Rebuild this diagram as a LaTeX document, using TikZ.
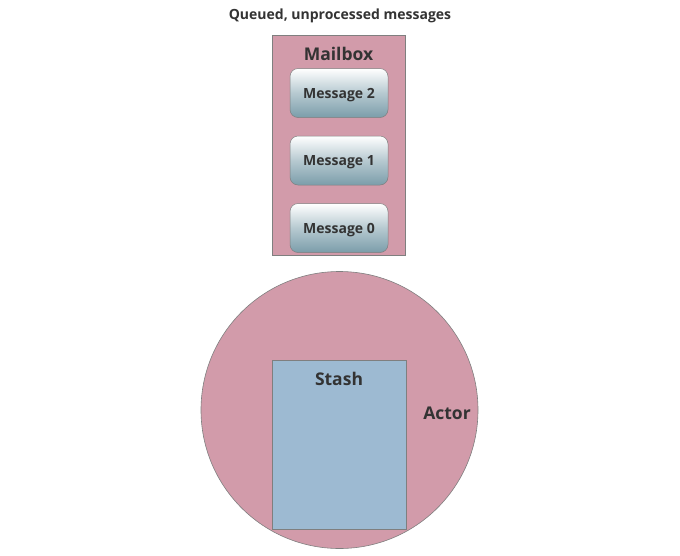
\documentclass[tikz,border=0pt]{standalone}
\usepackage{fontspec}
\setmainfont{Open Sans}
\usepackage{tikz}
\usetikzlibrary{positioning}
\definecolor{actorpink}{HTML}{D29BAA}
\definecolor{stashblue}{HTML}{9DBAD2}
\definecolor{msgteal}{HTML}{7B9DAA}
\definecolor{rimgray}{HTML}{7F7F7F}
\definecolor{inkgray}{HTML}{333333}

\begin{document}
\begin{tikzpicture}[x=1pt,y=-1pt]
\tikzstyle{every node}=[text=inkgray,font=\bfseries]
\tikzstyle{container}=[rectangle,draw=rimgray,fill=actorpink,line width=0.6pt]
\tikzstyle{biglbl}=[font=\bfseries\fontsize{17.5}{20}\selectfont]
\tikzstyle{msgbtn}=[rectangle,rounded corners=8pt,draw=rimgray,line width=0.5pt,
  top color=white,bottom color=msgteal,middle color=white!45!msgteal,
  minimum width=98pt,minimum height=49pt,text height=10pt,text depth=0pt,
  font=\bfseries\fontsize{14}{16}\selectfont]
\useasboundingbox (0,0) rectangle (680,555);
% the actor and its stash
\node[container,circle,minimum size=277pt] (actor) at (339.5,410) {};
\node[container,fill=stashblue,minimum width=134pt,minimum height=169pt] (stash) at (339,444.5) {};
\node[biglbl,below=9pt of stash.north] (stashlbl) {Stash};
\node[biglbl] (actorlbl) at (447,413) {Actor};
% the mailbox
\node[container,minimum width=133pt,minimum height=220pt] (mailbox) at (338.5,145) {};
\node[biglbl,below=9pt of mailbox.north] (mailboxlbl) {Mailbox};
\node[msgbtn] (msg2) at (339,93) {Message 2};
\node[msgbtn,below=18pt of msg2] (msg1) {Message 1};
\node[msgbtn,below=18pt of msg1] (msg0) {Message 0};
\node[font=\bfseries\fontsize{14}{16}\selectfont] (title) at (340,16) {Queued, unprocessed messages};
\end{tikzpicture}
\end{document}
